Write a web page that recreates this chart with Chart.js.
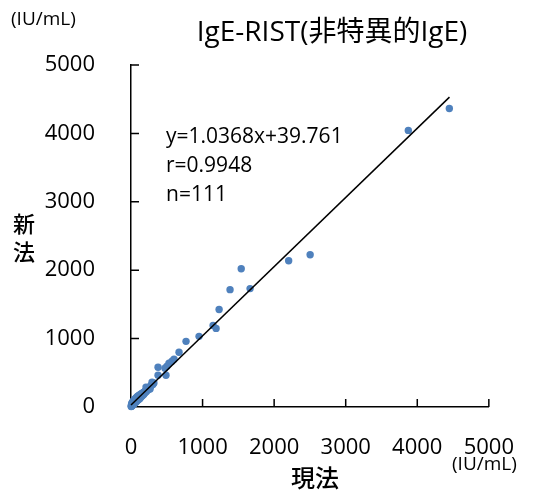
<!DOCTYPE html>
<html>
<head>
<meta charset="utf-8">
<script src="https://cdn.jsdelivr.net/npm/chart.js@4.4.0/dist/chart.umd.min.js"></script>
<style>
  html, body { margin: 0; padding: 0; background: #fff; }
  #wrap { width: 534px; height: 490px; }
</style>
</head>
<body>
<div id="wrap"><canvas id="c" width="534" height="490"></canvas></div>
<script>
// données (現法 = x, 新法 = y)
const xOld = [
  3, 5, 6, 8, 10, 11, 12, 14, 15, 17,
  18, 20, 21, 23, 25, 26, 28, 30, 31, 33,
  35, 36, 38, 40, 42, 44, 45, 47, 50, 52,
  54, 56, 58, 60, 62, 64, 66, 68, 70, 72,
  75, 77, 80, 82, 85, 88, 90, 93, 95, 98,
  100, 104, 108, 112, 115, 118, 122, 125, 128, 132,
  136, 140, 144, 148, 152, 156, 160, 165, 170, 175,
  180, 185, 190, 196, 202, 208, 215, 222, 230, 238,
  246, 255, 262, 272, 282, 305, 320,
  4448, 3875, 2503, 2203, 1540, 1664, 1384, 1231, 1147, 1189,
  951, 769, 671, 601, 573, 531, 503, 475, 378, 489,
  378, 294, 266, 210
];
const yNew = [
  8, 12, 30, 15, 20, 48, 18, 26, 60, 30,
  22, 35, 70, 28, 40, 55, 36, 80, 45, 38,
  50, 90, 48, 62, 55, 100, 58, 70, 65, 110,
  72, 60, 85, 120, 75, 90, 70, 130, 88, 95,
  82, 140, 100, 92, 115, 150, 105, 98, 125, 160,
  118, 110, 135, 170, 128, 145, 120, 180, 150, 140,
  165, 190, 155, 175, 160, 200, 180, 170, 210, 190,
  185, 220, 205, 230, 215, 240, 225, 255, 245, 270,
  260, 290, 280, 300, 318, 330, 350,
  4364, 4044, 2225, 2138, 2022, 1731, 1716, 1425, 1193, 1149,
  1033, 960, 800, 698, 669, 640, 596, 567, 582, 465,
  465, 363, 262, 291
];
// droite de régression (extrémités)
const fitX = [0, 4450];
const fitY = [30, 4530];
const ticksVal = [0, 1000, 2000, 3000, 4000, 5000];

const FONT = "'Open Sans', 'Noto Sans CJK JP', sans-serif";
const CJK = "'Noto Sans CJK JP', sans-serif";

const points = xOld.map((x, i) => ({ x: x, y: yNew[i] }));
const fitLine = fitX.map((x, i) => ({ x: x, y: fitY[i] }));

// textes libres + petites graduations vers l'intérieur
const decor = {
  id: "decor",
  afterDraw(chart) {
    const ctx = chart.ctx;
    const xs = chart.scales.x, ys = chart.scales.y;
    ctx.save();
    ctx.strokeStyle = "#000";
    ctx.lineWidth = 1.5;
    ctx.beginPath();
    ticksVal.forEach(v => {
      if (v === 0) return;
      const px = xs.getPixelForValue(v);
      ctx.moveTo(px, ys.bottom);
      ctx.lineTo(px, ys.bottom - 8);
      const py = ys.getPixelForValue(v);
      ctx.moveTo(xs.left, py);
      ctx.lineTo(xs.left + 8, py);
    });
    ctx.stroke();

    ctx.fillStyle = "#000";
    ctx.textBaseline = "middle";
    ctx.textAlign = "center";
    ctx.font = "28px " + FONT;
    ctx.fillText("IgE-RIST(非特異的IgE)", 332, 33);

    ctx.font = "19px " + FONT;
    ctx.textAlign = "left";
    ctx.fillText("(IU/mL)", 11, 20);
    ctx.fillText("(IU/mL)", 452, 465);

    ctx.font = "21px " + FONT;
    ctx.fillText("y=1.0368x+39.761", 166, 137);
    ctx.fillText("r=0.9948", 166, 166);
    ctx.fillText("n=111", 166, 195);

    ctx.textAlign = "center";
    ctx.font = "500 24px " + CJK;
    ctx.fillText("現法", 315, 478);
    ctx.font = "500 22px " + CJK;
    ctx.fillText("新", 24, 224);
    ctx.fillText("法", 24, 252);
    ctx.restore();
  }
};

new Chart(document.getElementById("c"), {
  type: "scatter",
  data: {
    datasets: [
      {
        label: "fit",
        data: fitLine,
        showLine: true,
        borderColor: "#000",
        borderWidth: 1.5,
        pointRadius: 0,
        order: 0,
        clip: false
      },
      {
        label: "IgE",
        data: points,
        backgroundColor: "#4f81bd",
        borderColor: "#4f81bd",
        pointRadius: 3.7,
        borderWidth: 0,
        order: 1,
        clip: false
      }
    ]
  },
  options: {
    responsive: false,
    animation: false,
    layout: { padding: { top: 65, right: 45, left: 0, bottom: 0 } },
    plugins: { legend: { display: false }, tooltip: { enabled: false } },
    scales: {
      x: {
        type: "linear",
        min: 0, max: 5000,
        afterFit: s => { s.height = 83; },
        afterBuildTicks: s => { s.ticks = ticksVal.map(v => ({ value: v })); },
        grid: { display: false },
        border: { display: true, color: "#000", width: 1.5 },
        ticks: { color: "#000", font: { size: 22, family: FONT }, padding: 20, maxRotation: 0,
                 callback: v => String(v) }
      },
      y: {
        type: "linear",
        min: 0, max: 5000,
        afterFit: s => { s.width = 131; },
        afterBuildTicks: s => { s.ticks = ticksVal.map(v => ({ value: v })); },
        grid: { display: false },
        border: { display: true, color: "#000", width: 1.5 },
        ticks: { color: "#000", font: { size: 22, family: FONT }, padding: 28,
                 callback: v => String(v) }
      }
    }
  },
  plugins: [decor]
});
</script>
</body>
</html>
